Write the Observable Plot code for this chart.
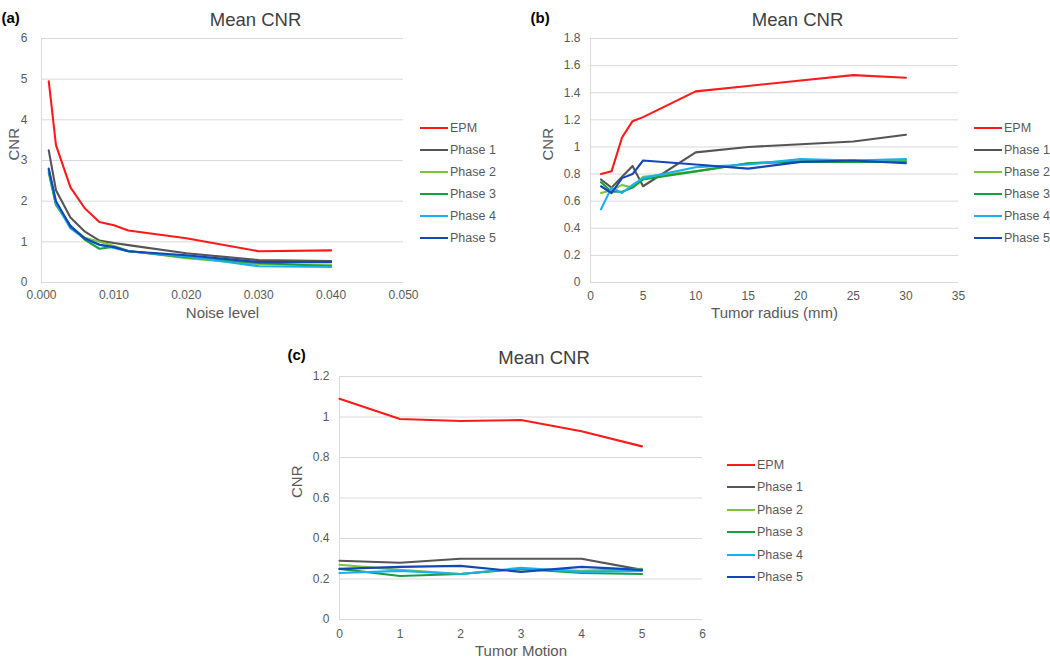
<!DOCTYPE html>
<html>
<head>
<meta charset="utf-8">
<script src="https://cdn.jsdelivr.net/npm/d3@7"></script>
<script src="https://cdn.jsdelivr.net/npm/@observablehq/plot@0.6"></script>
<style>
  html, body { margin: 0; padding: 0; background: #ffffff; }
  #root { position: relative; width: 1050px; height: 662px; overflow: hidden; font-family: "Liberation Sans", Arial, sans-serif; }
  .panel { position: absolute; }
  .legend { position: absolute; font-size: 12.5px; color: #595959; }
  .legend .row { position: absolute; left: 0; height: 16px; display: flex; align-items: center; white-space: nowrap; }
  .legend svg { display: block; margin-right: 2px; }
</style>
</head>
<body>
<div id="root"></div>
<script>
// ---------- data ----------
const seriesNames = ["EPM", "Phase 1", "Phase 2", "Phase 3", "Phase 4", "Phase 5"];
const seriesColors = ["#ff1a1a", "#555555", "#7cc43c", "#17a03a", "#1ab0f0", "#1446b8"];

// (a) Mean CNR vs noise level
const noiseLevel = [0.001, 0.002, 0.004, 0.006, 0.008, 0.010, 0.012, 0.020, 0.030, 0.040];
const noiseCNR = [
  [4.95, 3.38, 2.34, 1.82, 1.49, 1.41, 1.28, 1.09, 0.77, 0.79],   // EPM
  [3.25, 2.27, 1.60, 1.25, 1.03, 0.97, 0.92, 0.72, 0.55, 0.53],   // Phase 1
  [2.75, 1.90, 1.38, 1.10, 1.00, 0.90, 0.78, 0.60, 0.45, 0.43],   // Phase 2
  [2.70, 1.92, 1.40, 1.05, 0.83, 0.88, 0.77, 0.62, 0.48, 0.40],   // Phase 3
  [2.78, 1.95, 1.33, 1.08, 0.93, 0.85, 0.77, 0.64, 0.40, 0.38],   // Phase 4
  [2.80, 2.00, 1.38, 1.08, 0.93, 0.87, 0.77, 0.67, 0.50, 0.50]    // Phase 5
];
const noiseXTicks = [0, 0.01, 0.02, 0.03, 0.04, 0.05];
const noiseYTicks = [0, 1, 2, 3, 4, 5, 6];

// (b) Mean CNR vs tumor radius
const tumorRadius = [1, 2, 3, 4, 5, 10, 15, 20, 25, 30];
const radiusCNR = [
  [0.80, 0.82, 1.07, 1.19, 1.22, 1.41, 1.45, 1.49, 1.53, 1.51],   // EPM
  [0.76, 0.70, 0.78, 0.86, 0.71, 0.96, 1.00, 1.02, 1.04, 1.09],   // Phase 1
  [0.66, 0.68, 0.72, 0.70, 0.78, 0.82, 0.88, 0.90, 0.90, 0.90],   // Phase 2
  [0.74, 0.67, 0.67, 0.70, 0.76, 0.82, 0.88, 0.89, 0.89, 0.89],   // Phase 3
  [0.54, 0.70, 0.66, 0.72, 0.77, 0.85, 0.87, 0.91, 0.90, 0.91],   // Phase 4
  [0.71, 0.66, 0.77, 0.80, 0.90, 0.87, 0.84, 0.89, 0.90, 0.88]    // Phase 5
];
const radiusXTicks = [0, 5, 10, 15, 20, 25, 30, 35];
const radiusYTicks = [0, 0.2, 0.4, 0.6, 0.8, 1, 1.2, 1.4, 1.6, 1.8];

// (c) Mean CNR vs tumor motion
const tumorMotion = [0, 1, 2, 3, 4, 5];
const motionCNR = [
  [1.09, 0.99, 0.98, 0.985, 0.93, 0.855],   // EPM
  [0.29, 0.28, 0.30, 0.30, 0.30, 0.245],    // Phase 1
  [0.27, 0.245, 0.225, 0.25, 0.24, 0.25],   // Phase 2
  [0.25, 0.215, 0.225, 0.25, 0.23, 0.225],  // Phase 3
  [0.23, 0.24, 0.225, 0.255, 0.235, 0.24],  // Phase 4
  [0.25, 0.26, 0.265, 0.235, 0.26, 0.245]   // Phase 5
];
const motionXTicks = [0, 1, 2, 3, 4, 5, 6];
const motionYTicks = [0, 0.2, 0.4, 0.6, 0.8, 1, 1.2];

// ---------- helpers ----------
function tidy(xs, table) {
  return seriesNames.flatMap((s, i) => xs.map((x, j) => ({series: s, x, y: table[i][j]})));
}

function panel(o) {
  const data = tidy(o.xs, o.table);
  const p = Plot.plot({
    width: o.width, height: o.height,
    marginLeft: 41, marginRight: 7, marginTop: 38, marginBottom: o.height - 38 - o.inner,
    style: {fontFamily: "'Liberation Sans', Arial, sans-serif", fontSize: "12px", color: "#595959", background: "transparent", overflow: "visible"},
    x: {domain: o.xDomain},
    y: {domain: o.yDomain},
    color: {domain: seriesNames, range: seriesColors},
    marks: [
      Plot.gridY(o.yTicks, {stroke: "#d9d9d9", strokeOpacity: 1, strokeWidth: 1}),
      Plot.ruleX([o.xDomain[0]], {stroke: "#d9d9d9", strokeWidth: 1}),
      Plot.axisX(o.xTicks, {tickSize: 0, tickPadding: o.xPad, tickFormat: o.xFormat, label: null, fill: "#595959"}),
      Plot.axisY(o.yTicks, {tickSize: 0, tickPadding: o.yPad, tickFormat: d => String(d), label: null, fill: "#595959"}),
      Plot.line(data, {x: "x", y: "y", z: "series", stroke: "series", strokeWidth: 2.1, strokeLinejoin: "round"}),
      Plot.text([o.xLabel], {frameAnchor: "bottom", dy: o.xLabelDy, fontSize: 15, fill: "#595959"}),
      Plot.text(["CNR"], {frameAnchor: "left", dx: -o.yLabelDx, rotate: -90, fontSize: 15, fill: "#595959"}),
      Plot.text(["Mean CNR"], {frameAnchor: "top", dx: o.titleDx, dy: o.titleDy, fontSize: 18.5, fill: "#404040"}),
      Plot.text([o.tag], {frameAnchor: "top-left", textAnchor: "start", dx: o.tagDx, dy: o.tagDy, fontSize: 15, fontWeight: "bold", fill: "#000000"})
    ]
  });
  p.classList.add("panel");
  p.style.left = o.left + "px";
  p.style.top = o.top + "px";
  return p;
}

function legend(left, top, gap) {
  const div = document.createElement("div");
  div.className = "legend";
  div.style.left = left + "px";
  div.style.top = top + "px";
  seriesNames.forEach((s, i) => {
    const row = document.createElement("div");
    row.className = "row";
    row.style.top = (i * gap - 8) + "px";
    row.innerHTML = `<svg width="28" height="4"><line x1="0" y1="2" x2="28" y2="2" stroke="${seriesColors[i]}" stroke-width="2"/></svg><span>${s}</span>`;
    div.appendChild(row);
  });
  return div;
}

const root = document.getElementById("root");

root.appendChild(panel({
  left: 0, top: 0, width: 410, height: 330, inner: 244,
  xs: noiseLevel, table: noiseCNR, xDomain: [0, 0.05], yDomain: [0, 6],
  xTicks: noiseXTicks, yTicks: noiseYTicks, xFormat: d3.format(".3f"),
  xPad: 8, yPad: 14, xLabel: "Noise level", xLabelDy: 35, yLabelDx: 27,
  titleDx: 33, titleDy: -26, tag: "(a)", tagDx: -40, tagDy: -26
}));

root.appendChild(panel({
  left: 549, top: 0, width: 416, height: 330, inner: 244,
  xs: tumorRadius, table: radiusCNR, xDomain: [0, 35], yDomain: [0, 1.8],
  xTicks: radiusXTicks, yTicks: radiusYTicks, xFormat: d3.format("d"),
  xPad: 9, yPad: 10, xLabel: "Tumor radius (mm)", xLabelDy: 35, yLabelDx: 42,
  titleDx: 23, titleDy: -26, tag: "(b)", tagDx: -60, tagDy: -26
}));

root.appendChild(panel({
  left: 298, top: 338, width: 411, height: 324, inner: 243,
  xs: tumorMotion, table: motionCNR, xDomain: [0, 6], yDomain: [0, 1.2],
  xTicks: motionXTicks, yTicks: motionYTicks, xFormat: d3.format("d"),
  xPad: 10, yPad: 10, xLabel: "Tumor Motion", xLabelDy: 36, yLabelDx: 42,
  titleDx: 23, titleDy: -26, tag: "(c)", tagDx: -52, tagDy: -27
}));

root.appendChild(legend(420, 128, 22));
root.appendChild(legend(974, 128, 22));
root.appendChild(legend(727, 465, 22.4));
</script>
</body>
</html>
